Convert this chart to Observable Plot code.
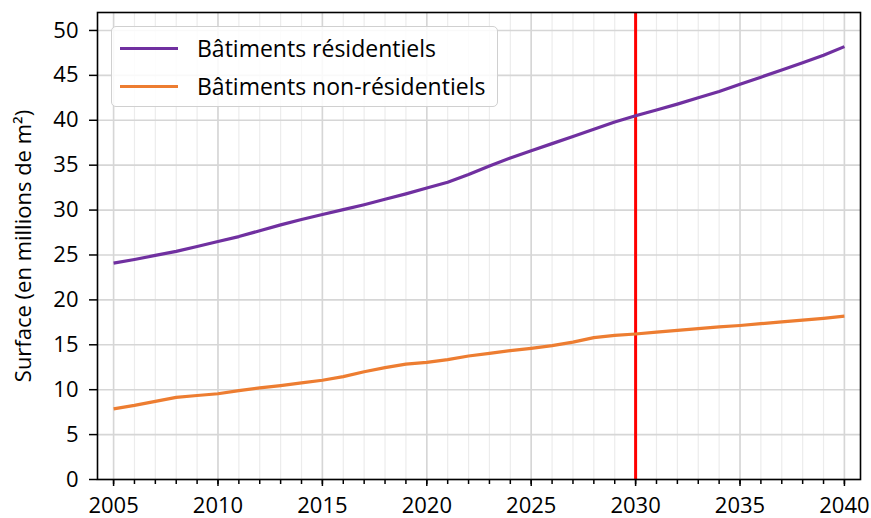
<!DOCTYPE html>
<html>
<head>
<meta charset="utf-8">
<script src="https://cdn.jsdelivr.net/npm/d3@7"></script>
<script src="https://cdn.jsdelivr.net/npm/@observablehq/plot@0.6"></script>
<style>
  html, body { margin: 0; padding: 0; background: #fff; }
  #wrap { position: relative; width: 871px; height: 518px; font-family: "Open Sans", sans-serif; }
  #legend { position: absolute; left: 111px; top: 26px; width: 385px; height: 79px;
    border: 1.5px solid #d0d0d0; border-radius: 5px; background: rgba(255,255,255,0.85); box-sizing: content-box; }
  .item { position: absolute; left: 0; height: 30px; display: flex; align-items: center; }
  .swatch { position: absolute; left: 8px; width: 58px; height: 3px; }
  .lbl { position: absolute; left: 85px; font-size: 23px; line-height: 30px; white-space: nowrap; color: #000; }
</style>
</head>
<body>
<div id="wrap"><div id="legend"></div></div>
<script>
const years = [2005,2006,2007,2008,2009,2010,2011,2012,2013,2014,2015,2016,2017,2018,2019,2020,2021,2022,2023,2024,2025,2026,2027,2028,2029,2030,2031,2032,2033,2034,2035,2036,2037,2038,2039,2040];
const residentiel = [24.1,24.5,24.95,25.4,25.95,26.5,27.05,27.7,28.35,28.95,29.5,30.05,30.6,31.2,31.8,32.45,33.1,33.95,34.9,35.8,36.6,37.4,38.2,39.0,39.8,40.5,41.15,41.8,42.5,43.2,44.0,44.8,45.6,46.4,47.25,48.2];
const nonResidentiel = [7.87,8.25,8.7,9.15,9.35,9.55,9.9,10.2,10.45,10.75,11.05,11.45,12.0,12.45,12.85,13.05,13.35,13.75,14.05,14.35,14.6,14.9,15.3,15.8,16.05,16.2,16.4,16.6,16.8,17.0,17.15,17.35,17.55,17.75,17.95,18.2];
const seriesNames = ["Bâtiments résidentiels", "Bâtiments non-résidentiels"];
const seriesColors = ["#7030a0", "#ed7d31"];
const majorYears = [2005,2010,2015,2020,2025,2030,2035,2040];
const yTicks = [0,5,10,15,20,25,30,35,40,45,50];
const markerYear = [2030];
const yLabel = "Surface (en millions de m²)";

const data = [
  ...years.map((x, i) => ({x, y: residentiel[i], s: seriesNames[0]})),
  ...years.map((x, i) => ({x, y: nonResidentiel[i], s: seriesNames[1]}))
];

const chart = Plot.plot({
  width: 871,
  height: 518,
  marginLeft: 97,
  marginRight: 11,
  marginTop: 12,
  marginBottom: 39,
  style: {fontFamily: "'Open Sans', sans-serif", fontSize: "22px", color: "#000", background: "#fff"},
  x: {domain: [2004.23, 2040.77]},
  y: {domain: [0, 52]},
  color: {domain: seriesNames, range: seriesColors},
  marks: [
    Plot.gridX(years, {stroke: "#ececec", strokeOpacity: 1, strokeWidth: 1.2}),
    Plot.gridX(majorYears, {stroke: "#d6d6d6", strokeOpacity: 1, strokeWidth: 1.6}),
    Plot.gridY(yTicks, {stroke: "#d6d6d6", strokeOpacity: 1, strokeWidth: 1.6}),
    Plot.ruleX(markerYear, {stroke: "#ff0000", strokeWidth: 3}),
    Plot.line(data, {x: "x", y: "y", stroke: "s", strokeWidth: 3.2, strokeLinecap: "butt"}),
    Plot.frame({stroke: "#000", strokeWidth: 1.6}),
    Plot.axisX(years, {tickSize: 5, strokeWidth: 1.5, tickFormat: () => "", label: null}),
    Plot.axisX(majorYears, {tickSize: 7, strokeWidth: 1.5, tickPadding: 11, tickFormat: d => String(d), label: null, fontSize: 22}),
    Plot.axisY(yTicks, {tickSize: 8, strokeWidth: 1.5, tickPadding: 11, fontSize: 22, label: yLabel,
      labelAnchor: "center", labelArrow: "none", labelOffset: 82})
  ]
});
document.getElementById("wrap").prepend(chart);

const legend = document.getElementById("legend");
seriesNames.forEach((name, i) => {
  const item = document.createElement("div");
  item.className = "item";
  item.style.top = (6 + i * 38) + "px";
  item.style.width = "100%";
  const sw = document.createElement("div");
  sw.className = "swatch";
  sw.style.background = seriesColors[i];
  sw.style.top = "14px";
  const lb = document.createElement("div");
  lb.className = "lbl";
  lb.textContent = name;
  lb.style.top = "0px";
  item.appendChild(sw);
  item.appendChild(lb);
  legend.appendChild(item);
});
</script>
</body>
</html>
